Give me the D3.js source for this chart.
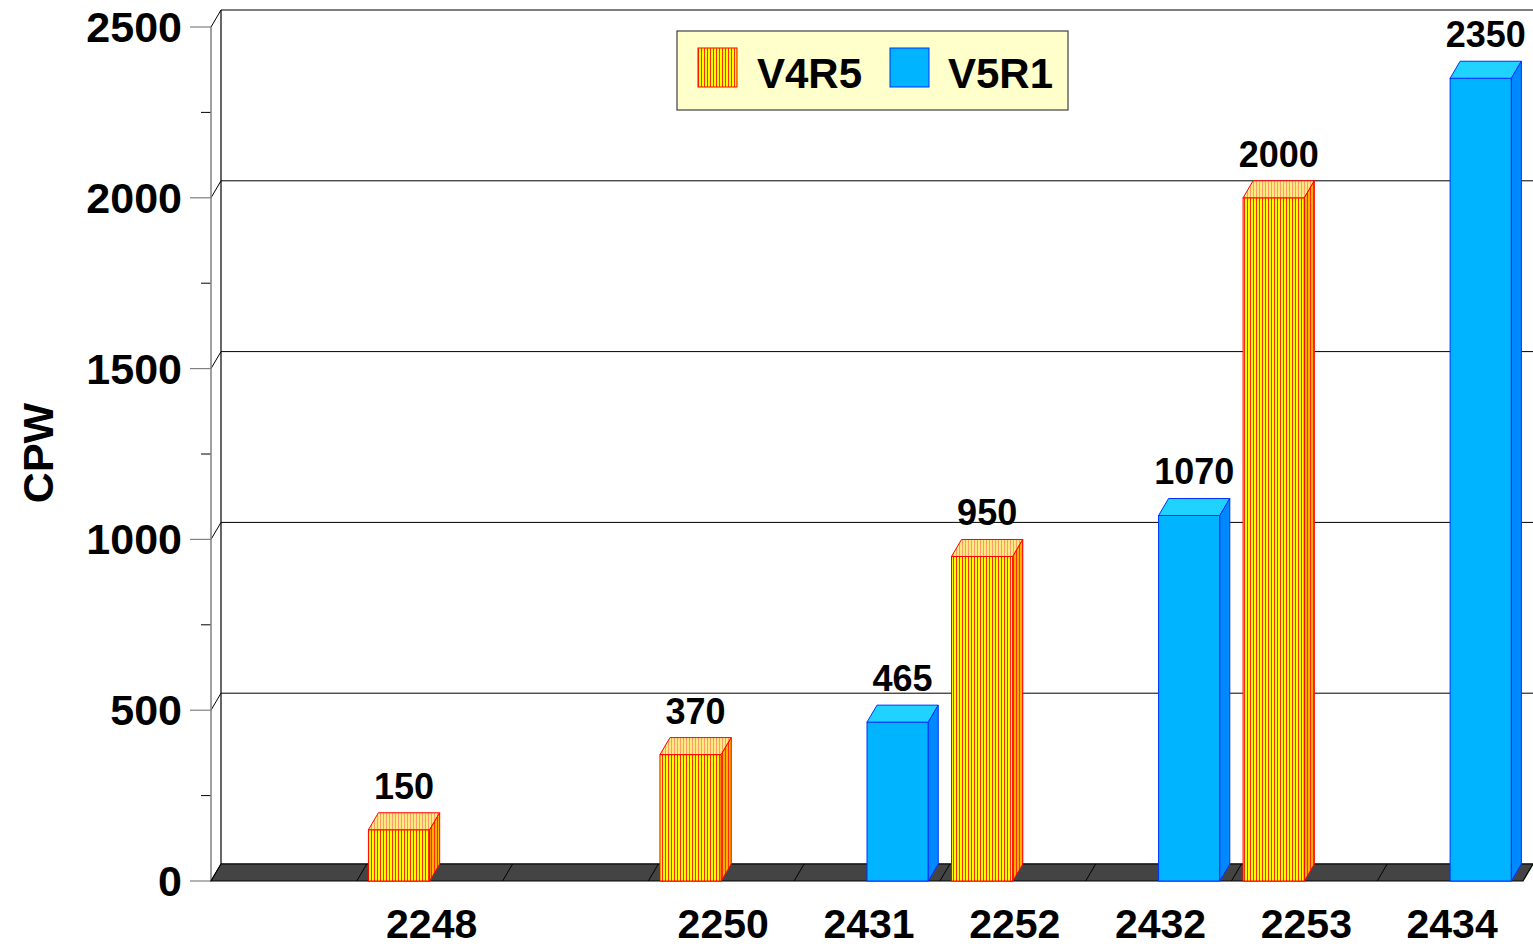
<!DOCTYPE html>
<html>
<head>
<meta charset="utf-8">
<script src="https://cdn.jsdelivr.net/npm/d3@7"></script>
<style>
  body { margin: 0; background: #fff; }
  text { font-family: "Liberation Sans", Arial, sans-serif; font-weight: bold; }
</style>
</head>
<body>
<svg id="chart" width="1533" height="947"></svg>
<script>
// data
const categories = ["", "2248", "", "2250", "2431", "2252", "2432", "2253", "2434"];
const seriesNames = ["V4R5", "V5R1"];
const v4r5 = [null, 150, null, 370, null, 950, null, 2000, null];
const v5r1 = [null, null, null, null, 465, null, 1070, null, 2350];
const yMajorTicks = [0, 500, 1000, 1500, 2000, 2500];
const yMinorTicks = [250, 750, 1250, 1750, 2250];

const svg = d3.select("#chart");
const width = +svg.attr("width");

// depth offset for the fake 3d
const dx = 10, dy = -17;

const y = d3.scaleLinear().domain([0, 2500]).range([881, 27]);
const x = d3.scaleBand().domain(d3.range(categories.length)).range([211, 1523]).padding(0);
const xSub = d3.scaleBand().domain(seriesNames).range([0, x.bandwidth()]).paddingInner(0).paddingOuter(0.19);

// patterns for the striped series
const defs = svg.append("defs");
function stripes(id, bg, fg) {
  const p = defs.append("pattern")
    .attr("id", id)
    .attr("patternUnits", "userSpaceOnUse")
    .attr("width", 3).attr("height", 10);
  p.append("rect").attr("width", 3).attr("height", 10).attr("fill", bg);
  p.append("rect").attr("x", 2).attr("width", 1).attr("height", 10).attr("fill", fg);
}
stripes("pFront", "#ffff00", "#ff2a00");
stripes("pTop", "#ffea80", "#ff9a6a");
stripes("pSide", "#ffb000", "#ff2a00");

const styles = {
  V4R5: { front: "url(#pFront)", top: "url(#pTop)", side: "url(#pSide)", stroke: "#ff0000" },
  V5R1: { front: "#00b4ff", top: "#20d2ff", side: "#0088ff", stroke: "#0030ff" }
};

// ==============================================
// back wall + grid
// ==============================================
const x0 = 211, x1 = 1523;
const grid = svg.append("g");

yMajorTicks.forEach(t => {
  grid.append("line")
    .attr("x1", x0 + dx).attr("x2", width)
    .attr("y1", y(t) + dy).attr("y2", y(t) + dy)
    .attr("stroke", "#000").attr("stroke-width", 1);
  grid.append("line")
    .attr("x1", x0).attr("y1", y(t))
    .attr("x2", x0 + dx).attr("y2", y(t) + dy)
    .attr("stroke", "#000").attr("stroke-width", 1);
  // major tick
  grid.append("line")
    .attr("x1", 190).attr("x2", x0)
    .attr("y1", y(t)).attr("y2", y(t))
    .attr("stroke", "#808080").attr("stroke-width", 1.2);
});

yMinorTicks.forEach(t => {
  grid.append("line")
    .attr("x1", 201).attr("x2", x0)
    .attr("y1", y(t)).attr("y2", y(t))
    .attr("stroke", "#000").attr("stroke-width", 1);
});

// back wall left edge and front axis
grid.append("line")
  .attr("x1", x0 + dx).attr("x2", x0 + dx)
  .attr("y1", y(2500) + dy).attr("y2", y(0) + dy)
  .attr("stroke", "#000").attr("stroke-width", 1.2);
grid.append("line")
  .attr("x1", x0).attr("x2", x0)
  .attr("y1", y(2500)).attr("y2", y(0))
  .attr("stroke", "#808080").attr("stroke-width", 1.5);

// ==============================================
// floor
// ==============================================
const y0 = y(0);
svg.append("path")
  .attr("d", `M${x0},${y0} L${x1},${y0} L${x1 + dx},${y0 + dy} L${x0 + dx},${y0 + dy} Z`)
  .attr("fill", "#444444")
  .attr("stroke", "#000")
  .attr("stroke-width", 1.2);

d3.range(1, categories.length).forEach(i => {
  const bx = x(i);
  svg.append("line")
    .attr("x1", bx).attr("y1", y0)
    .attr("x2", bx + dx).attr("y2", y0 + dy)
    .attr("stroke", "#000").attr("stroke-width", 1);
});

// ==============================================
// bars
// ==============================================
const barData = [];
categories.forEach((c, i) => {
  if (v4r5[i] != null) barData.push({ i, series: "V4R5", value: v4r5[i] });
  if (v5r1[i] != null) barData.push({ i, series: "V5R1", value: v5r1[i] });
});

const bars = svg.append("g").selectAll("g.bar")
  .data(barData)
  .join("g")
  .attr("class", "bar");

bars.each(function(d) {
  const g = d3.select(this);
  const st = styles[d.series];
  const bx = x(d.i) + xSub(d.series);
  const bw = xSub.bandwidth();
  const yt = y(d.value);

  g.append("rect")
    .attr("x", bx).attr("y", yt)
    .attr("width", bw).attr("height", y0 - yt)
    .attr("fill", st.front)
    .attr("stroke", st.stroke).attr("stroke-width", 1);

  g.append("path")
    .attr("d", `M${bx},${yt} L${bx + dx},${yt + dy} L${bx + bw + dx},${yt + dy} L${bx + bw},${yt} Z`)
    .attr("fill", st.top)
    .attr("stroke", st.stroke).attr("stroke-width", 1);

  g.append("path")
    .attr("d", `M${bx + bw},${yt} L${bx + bw + dx},${yt + dy} L${bx + bw + dx},${y0 + dy} L${bx + bw},${y0} Z`)
    .attr("fill", st.side)
    .attr("stroke", st.stroke).attr("stroke-width", 1);

  g.append("text")
    .attr("x", bx + (bw + dx) / 2)
    .attr("y", yt + dy - 14)
    .attr("text-anchor", "middle")
    .style("font-size", "36px")
    .attr("fill", "#000")
    .text(d.value);
});

// ==============================================
// axis labels
// ==============================================
svg.append("g").selectAll("text")
  .data(yMajorTicks)
  .join("text")
  .attr("x", 182)
  .attr("y", d => y(d) + 15)
  .attr("text-anchor", "end")
  .style("font-size", "43px")
  .text(d => d);

svg.append("g").selectAll("text")
  .data(categories)
  .join("text")
  .attr("x", (d, i) => x(i) + x.bandwidth() / 2 + 2)
  .attr("y", 938)
  .attr("text-anchor", "middle")
  .style("font-size", "41px")
  .text(d => d);

svg.append("text")
  .attr("transform", "translate(53,453) rotate(-90)")
  .attr("text-anchor", "middle")
  .style("font-size", "43px")
  .text("CPW");

// ==============================================
// legend
// ==============================================
const legend = svg.append("g");
legend.append("rect")
  .attr("x", 677).attr("y", 31)
  .attr("width", 391).attr("height", 79)
  .attr("fill", "#ffffcc")
  .attr("stroke", "#404040").attr("stroke-width", 1.2);

const legendPos = [{ sx: 698, tx: 757 }, { sx: 890, tx: 948 }];
seriesNames.forEach((s, k) => {
  legend.append("rect")
    .attr("x", legendPos[k].sx).attr("y", 48)
    .attr("width", 39).attr("height", 39)
    .attr("fill", styles[s].front)
    .attr("stroke", styles[s].stroke).attr("stroke-width", 1);
  legend.append("text")
    .attr("x", legendPos[k].tx).attr("y", 88)
    .style("font-size", "42px")
    .text(s);
});
</script>
</body>
</html>
